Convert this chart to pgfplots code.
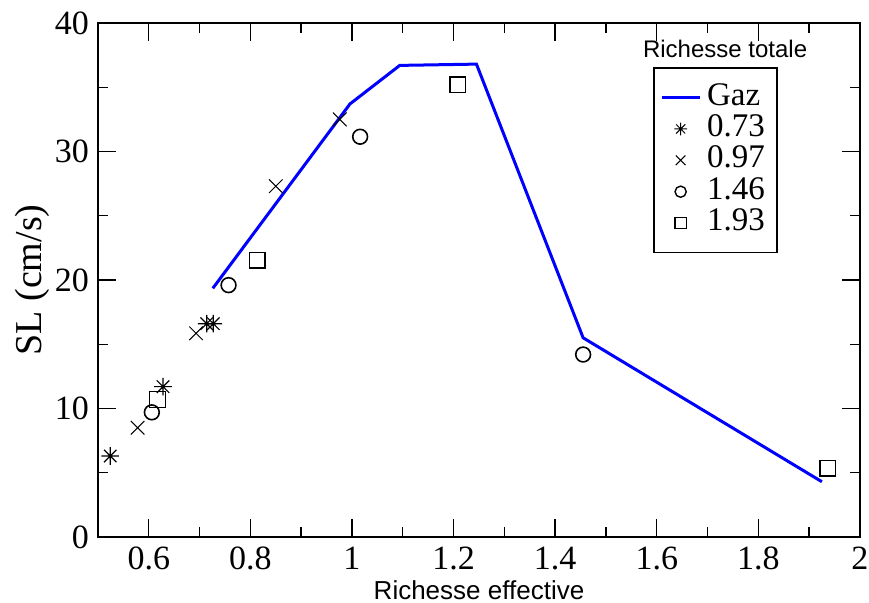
\documentclass[border=0pt]{standalone}
\usepackage{pgfplots}
\pgfplotsset{compat=1.18}
\usepackage{fontspec}
\setmainfont{Liberation Serif}
\setsansfont{Liberation Sans}
\pgfdeclareplotmark{ast8}{%
  \pgfpathmoveto{\pgfqpoint{-\pgfplotmarksize}{0pt}}\pgfpathlineto{\pgfqpoint{\pgfplotmarksize}{0pt}}%
  \pgfpathmoveto{\pgfqpoint{0pt}{-\pgfplotmarksize}}\pgfpathlineto{\pgfqpoint{0pt}{\pgfplotmarksize}}%
  \pgfpathmoveto{\pgfqpoint{-0.707\pgfplotmarksize}{-0.707\pgfplotmarksize}}\pgfpathlineto{\pgfqpoint{0.707\pgfplotmarksize}{0.707\pgfplotmarksize}}%
  \pgfpathmoveto{\pgfqpoint{-0.707\pgfplotmarksize}{0.707\pgfplotmarksize}}\pgfpathlineto{\pgfqpoint{0.707\pgfplotmarksize}{-0.707\pgfplotmarksize}}%
  \pgfusepathqstroke}
\begin{document}
\begin{tikzpicture}
\begin{axis}[
  scale only axis,
  width=381pt, height=257pt,
  xmin=0.5, xmax=2, ymin=0, ymax=40,
  xtick={0.6,0.8,1,1.2,1.4,1.6,1.8,2},
  ytick={0,10,20,30,40},
  minor x tick num=1, minor y tick num=1,
  tick align=inside,
  major tick length=9pt, minor tick length=5pt,
  tick style={black, line width=0.7pt},
  axis line style={line width=1pt},
  /pgf/number format/assume math mode=true,
  xticklabel={\pgfmathprintnumber{\tick}},
  yticklabel={\pgfmathprintnumber{\tick}},
  ticklabel style={font=\rmfamily\fontsize{17}{19}\selectfont},
  xticklabel style={yshift=-1.5pt},
  yticklabel style={xshift=-1pt},
  xlabel={\sffamily\fontsize{13}{15}\selectfont Richesse effective},
  ylabel={\rmfamily\fontsize{19}{22}\selectfont SL (cm/s)},
  xlabel style={at={(axis description cs:0.5,-0.103)}, anchor=center},
  ylabel style={at={(axis description cs:-0.0866,0.5)}, anchor=center},
  legend cell align=left,
  legend style={at={(rel axis cs:0.892,0.914)}, anchor=north east,
    draw=black, line width=0.8pt, font=\rmfamily\fontsize{16.5}{18}\selectfont,
    row sep=0.2pt, inner xsep=3pt, inner ysep=7pt,
    nodes={inner ysep=0pt, inner xsep=3pt, text height=11.5pt, text depth=4pt}},
  legend image code/.code={\draw[#1] (0pt,0pt) -- (19pt,0pt);},
]
\addplot[blue, line width=1.5pt, mark=none] coordinates {
 (0.726,19.35) (0.996,33.7) (1.094,36.7) (1.245,36.8) (1.455,15.5) (1.925,4.3)};
\addlegendentry{Gaz}
\addplot[only marks, mark=ast8, mark size=4.4pt, mark options={black, line width=0.6pt},
  legend image code/.code={\path[draw=none,fill=none] (0pt,0pt) rectangle (19pt,0.1pt); \draw[mark=ast8, mark size=3.2pt, mark options={black, line width=0.5pt}] plot coordinates {(9.5pt,0pt)};}] coordinates {
 (0.524,6.3) (0.628,11.7) (0.714,16.6) (0.727,16.6)};
\addlegendentry{0.73}
\addplot[only marks, mark=x, mark size=4.8pt, mark options={black, line width=0.5pt},
  legend image code/.code={\path[draw=none,fill=none] (0pt,0pt) rectangle (19pt,0.1pt); \draw[mark=x, mark size=3.4pt, mark options={black, line width=0.5pt}] plot coordinates {(9.5pt,0pt)};}] coordinates {
 (0.578,8.5) (0.693,15.85) (0.85,27.3) (0.976,32.5)};
\addlegendentry{0.97}
\addplot[only marks, mark=o, mark size=3.7pt, mark options={black, line width=0.8pt},
  legend image code/.code={\path[draw=none,fill=none] (0pt,0pt) rectangle (19pt,0.1pt); \draw[mark=o, mark size=2.8pt, mark options={black, line width=0.7pt}] plot coordinates {(9.5pt,0pt)};}] coordinates {
 (0.606,9.7) (0.757,19.6) (1.016,31.15) (1.455,14.2)};
\addlegendentry{1.46}
\addplot[only marks, mark=square, mark size=3.9pt, mark options={black, line width=0.7pt},
  legend image code/.code={\path[draw=none,fill=none] (0pt,0pt) rectangle (19pt,0.1pt); \draw[mark=square, mark size=2.8pt, mark options={black, line width=0.6pt}] plot coordinates {(9.5pt,0pt)};}] coordinates {
 (0.617,10.7) (0.813,21.55) (1.208,35.2) (1.937,5.35)};
\addlegendentry{1.93}
\node[font=\sffamily\fontsize{12}{14}\selectfont] at (rel axis cs:0.823,0.949) {Richesse totale};
\end{axis}
\pgfresetboundingbox
\path (current axis.south west) ++(-49pt,-33pt) rectangle ++(434.5pt,301.5pt);
\end{tikzpicture}
\end{document}
